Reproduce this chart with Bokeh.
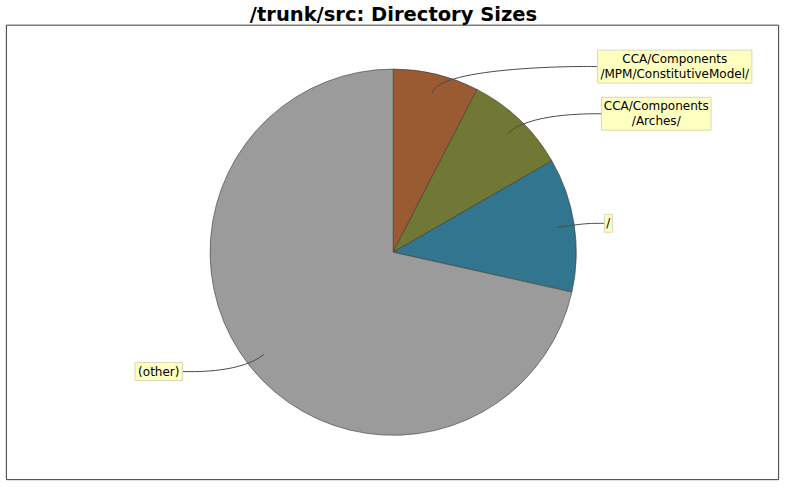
import math
from bokeh.plotting import figure
from bokeh.models import Range1d
from bokeh.embed import file_html
from bokeh.resources import INLINE
from bokeh.core.properties import value

# ---- data ----
title = "/trunk/src: Directory Sizes"
labels = [["CCA/Components", "/MPM/ConstitutiveModel/"],
          ["CCA/Components", "/Arches/"],
          ["/"],
          ["(other)"]]
shares = [7.57, 9.12, 11.81, 71.50]
colors = ["#9A5A32", "#717835", "#31768E", "#9B9B9B"]

# ---- layout (reference pixel coordinates, y measured downward) ----
W, H = 784, 484
REF_W, REF_H = 800, 500
SCALE = (W / REF_W + H / REF_H) / 2
CX, CY = 400.7, 260.0
R = 188.0
LINK_R = R / 0.95
LINK_PCT = 0.9
# label boxes: (edge x, centre y, width); right labels use left edge, left labels right edge
box_layout = [(609.3, 68.3, 157.4), (613.3, 117.0, 111.7), (616.2, 230.2, 8.2), (185.7, 383.3, 48.4)]
LINE_H = 15.5
FONT = "DejaVu Sans"


def fy(py):
    return REF_H - py


p = figure(width=W, height=H, x_range=Range1d(0, REF_W), y_range=Range1d(0, REF_H),
           output_backend="svg", toolbar_location=None, min_border=0)
p.axis.visible = False
p.grid.visible = False
p.outline_line_color = None
p.background_fill_color = "white"
p.border_fill_color = "white"

# plot border
p.quad(left=[6.0], right=[794.0], top=[fy(25.5)], bottom=[fy(495.0)],
       fill_color=None, line_color="#3c3c3c", line_width=1)

# title
p.text(x=[401], y=[fy(14)], text=[title], text_font=value(FONT), text_font_style="bold",
       text_font_size="19.5px", text_align="center", text_baseline="middle", text_color="black")

# wedges
total = sum(shares)
cum = 0.0
mids = []
starts, ends = [], []
for s in shares:
    a0 = cum / total
    cum += s
    a1 = cum / total
    starts.append(math.pi / 2 - 2 * math.pi * a0)
    ends.append(math.pi / 2 - 2 * math.pi * a1)
    mids.append(2 * math.pi * (a0 + a1) / 2)

p.wedge(x=[CX] * len(shares), y=[fy(CY)] * len(shares), radius=R * SCALE, radius_units="screen",
        start_angle=starts, end_angle=ends, direction="clock",
        fill_color=colors, line_color="#3a3a3a", line_width=0.6)

# label links (cubic curves) and boxes
for lab, th, (ex, ey, bw) in zip(labels, mids, box_layout):
    right = th < math.pi
    lx = CX + math.sin(th) * R * LINK_PCT
    ly = CY - math.cos(th) * R * LINK_PCT
    elx = CX + math.sin(th) * LINK_R
    ely = CY - math.cos(th) * LINK_R
    anx = CX + LINK_R if right else CX - LINK_R
    p.bezier(x0=[ex], y0=[fy(ey)], x1=[lx], y1=[fy(ly)],
             cx0=[anx], cy0=[fy(ely)], cx1=[elx], cy1=[fy(ely)],
             line_color="#4a4a4a", line_width=1)
    n = len(lab)
    bh = LINE_H * n + 3
    left = ex if right else ex - bw
    p.quad(left=[left], right=[left + bw], top=[fy(ey - bh / 2)], bottom=[fy(ey + bh / 2)],
           fill_color="#FFFFC0", line_color="#D8D8B8", line_width=1)
    xc = left + bw / 2
    for i, t in enumerate(lab):
        yy = ey + (i - (n - 1) / 2) * LINE_H
        p.text(x=[xc], y=[fy(yy)], text=[t], text_font=value(FONT), text_font_size="12px",
               text_align="center", text_baseline="middle", text_color="black")

open("out.html", "w").write(file_html(p, INLINE))
